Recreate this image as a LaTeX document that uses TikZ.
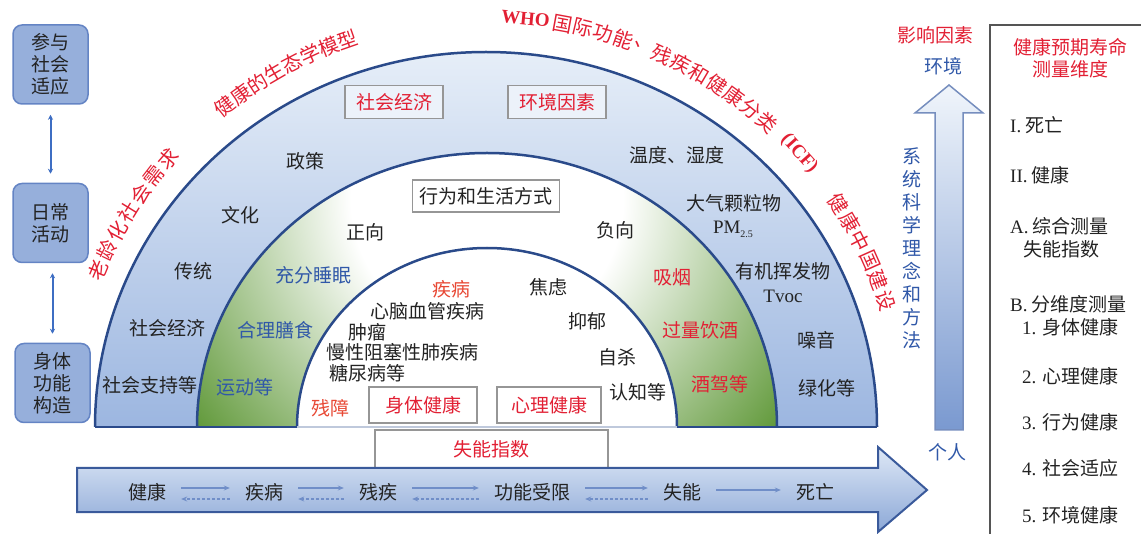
\documentclass[tikz,border=0pt]{standalone}
\usepackage{fontspec}
\setmainfont{Noto Sans CJK SC}
\newfontfamily\ser{Liberation Serif}
\usetikzlibrary{arrows.meta}

\definecolor{txtred}{RGB}{226,32,52}
\definecolor{txtorg}{RGB}{232,72,52}
\definecolor{txtblue}{RGB}{48,88,168}
\definecolor{txtdark}{RGB}{35,35,35}
\definecolor{bandline}{RGB}{42,74,138}
\definecolor{bandtop}{RGB}{230,238,248}
\definecolor{bandbot}{RGB}{156,182,224}
\definecolor{gdeep}{RGB}{92,150,52}
\definecolor{boxgray}{RGB}{150,150,150}
\definecolor{boxfill}{RGB}{236,242,250}
\definecolor{lboxfill}{RGB}{150,175,219}
\definecolor{lboxline}{RGB}{100,132,196}
\definecolor{arrline}{RGB}{58,90,155}
\definecolor{arrtop}{RGB}{222,232,246}
\definecolor{arrbot}{RGB}{140,168,215}
\definecolor{smallarr}{RGB}{112,142,200}
\definecolor{vline}{RGB}{62,110,195}
\definecolor{vtop}{RGB}{240,245,251}
\definecolor{vbot}{RGB}{122,153,208}
\definecolor{vedge}{RGB}{118,142,190}
\definecolor{panel}{RGB}{85,85,85}

\pgfdeclareradialshading{greenband}{\pgfpoint{0bp}{0bp}}{color(0bp)=(white); color(8.5bp)=(white); color(23.5bp)=(gdeep); color(50bp)=(gdeep)}

\newcommand\arcchars[4]{%
  \foreach \ch [count=\i from 0] in {#4}{%
    \pgfmathsetmacro\ang{#2-\i*#3}%
    \node[arclbl, rotate=\ang-90] (#1\i) at ({486+420*cos(\ang)},{-427+410*sin(\ang)}) {\ch};
  }}

\begin{document}
\begin{tikzpicture}[x=1pt,y=1pt,
  base/.style={font=\fontsize{19}{22}\selectfont, inner sep=1pt},
  lbl/.style={base, text=txtdark},
  redlbl/.style={base, text=txtred},
  orglbl/.style={base, text=txtorg},
  bluelbl/.style={base, text=txtblue},
  serlbl/.style={lbl, font=\ser\fontsize{19}{22}\selectfont},
  arclbl/.style={font=\fontsize{20}{22}\selectfont, text=txtred, inner sep=0pt},
  graybox/.style={base, draw=boxgray, line width=1.8pt, fill=white, text=txtred, inner sep=0pt},
  sidebox/.style={base, draw=lboxline, line width=1.5pt, fill=lboxfill, rounded corners=9pt, minimum width=75pt, minimum height=79pt, align=center, text=txtdark, inner sep=0pt},
  vconn/.style={{Stealth[length=5pt,width=5pt]}-{Stealth[length=5pt,width=5pt]}, vline, line width=2pt, shorten <=10pt, shorten >=9pt},
  fwd/.style={-{Stealth[length=6pt,width=5pt]}, smallarr, line width=1.6pt, shorten <=14pt, shorten >=14pt},
  bwd/.style={-{Stealth[length=6pt,width=5pt]}, smallarr, line width=1.6pt, dash pattern=on 3pt off 2pt, shorten <=14pt, shorten >=14pt},
  bandedge/.style={bandline, line width=2.5pt},
]
\useasboundingbox (0,0) rectangle (1141,-534);

% ---------- half-ellipse bands ----------
\shade[top color=bandtop, bottom color=bandbot] (95,-427) arc[start angle=180,end angle=0,x radius=391,y radius=375] -- cycle;
\begin{scope}
  \clip (197,-427) arc[start angle=180,end angle=0,x radius=290,y radius=274] -- cycle;
  \shade[shading=greenband] (487,-200) circle (400);
\end{scope}
\fill[white] (297,-427) arc[start angle=180,end angle=0,x radius=190,y radius=179] -- cycle;
\draw[bandedge] (95,-427) arc[start angle=180,end angle=0,x radius=391,y radius=375];
\draw[bandedge] (197,-427) arc[start angle=180,end angle=0,x radius=290,y radius=274];
\draw[bandedge] (297,-427) arc[start angle=180,end angle=0,x radius=190,y radius=179];
\draw[bandedge] (95,-427) -- (297,-427) (677,-427) -- (877,-427);
\draw[bandline!30, line width=2pt] (297,-427) -- (677,-427);

% ---------- curved red titles ----------
\arcchars{aging}{157.5}{3.05}{老,龄,化,社,会,需,求}
\arcchars{eco}{128.5}{2.75}{健,康,的,生,态,学,模,型}
\node[arclbl, font=\ser\bfseries\fontsize{19}{22}\selectfont, rotate=84.6-90] (who) at ({486+420*cos(84.6)},{-427+410*sin(84.6)}) {WHO};
\arcchars{icf}{79.5}{2.86}{国,际,功,能,、,残,疾,和,健,康,分,类}
\node[arclbl, font=\ser\bfseries\fontsize{19}{22}\selectfont, rotate=41.8-90] (icf) at ({486+420*cos(41.8)},{-427+410*sin(41.8)}) {(ICF)};
\arcchars{hc}{33}{3.0}{健,康,中,国,建,设}

% ---------- outer (blue) band ----------
\node[lbl] (zc) at (305,-161) {政策};
\node[lbl] (wh) at (240,-215) {文化};
\node[lbl] (ct) at (193,-271) {传统};
\node[lbl] (sj) at (167,-328) {社会经济};
\node[lbl] (sz) at (150,-385) {社会支持等};
\node[graybox, fill=boxfill, minimum width=98pt, minimum height=33pt] (bse) at (394,-102) {社会经济};
\node[graybox, fill=boxfill, minimum width=98pt, minimum height=33pt] (bhj) at (557,-102) {环境因素};
\node[lbl] (wd) at (677,-155) {温度、湿度};
\node[lbl] (dq) at (734,-203) {大气颗粒物};
\node[serlbl] (pm) at (733,-229) {PM\raisebox{-4pt}{\fontsize{10}{10}\selectfont 2.5}};
\node[lbl] (yj) at (783,-271) {有机挥发物};
\node[serlbl] (tv) at (783,-296) {Tvoc};
\node[lbl] (zy) at (816,-340) {噪音};
\node[lbl] (lh) at (827,-388) {绿化等};

% ---------- middle (green) band ----------
\node[graybox, text=txtdark, minimum width=147pt, minimum height=32pt] (xw) at (486,-196) {行为和生活方式};
\node[lbl] (zx) at (365,-232) {正向};
\node[lbl] (fx) at (615,-230) {负向};
\node[bluelbl] (sm) at (313,-275) {充分睡眠};
\node[bluelbl] (ss) at (275,-330) {合理膳食};
\node[bluelbl] (yd) at (245,-387) {运动等};
\node[redlbl] (xy) at (672,-277) {吸烟};
\node[redlbl] (gl) at (700,-330) {过量饮酒};
\node[redlbl] (jj) at (720,-384) {酒驾等};

% ---------- inner (white) region ----------
\node[orglbl] (jb) at (451,-289) {疾病};
\node[lbl] (xn) at (427,-311) {心脑血管疾病};
\node[lbl] (zl) at (367,-332) {肿瘤};
\node[lbl] (mx) at (402,-352) {慢性阻塞性肺疾病};
\node[lbl] (tn) at (367,-373) {糖尿病等};
\node[lbl] (jl) at (548,-287) {焦虑};
\node[lbl] (yy) at (587,-321) {抑郁};
\node[lbl] (zs) at (617,-357) {自杀};
\node[lbl] (rz) at (638,-392) {认知等};
\node[orglbl] (cz) at (330,-408) {残障};
\node[graybox, minimum width=108pt, minimum height=36pt] (st) at (423,-405) {身体健康};
\node[graybox, minimum width=104pt, minimum height=36pt] (xl) at (549,-405) {心理健康};
\node[graybox, minimum width=233pt, minimum height=38pt] (sn) at (491.5,-449) {失能指数};

% ---------- bottom arrow ----------
\shadedraw[top color=arrtop, bottom color=arrbot, draw=arrline, line width=2pt] (77,-468) -- (878,-468) -- (878,-447) -- (927,-490) -- (878,-532) -- (878,-512) -- (77,-512) -- cycle;
\node[lbl] (h1) at (147,-492) {健康};
\node[lbl] (h2) at (264,-492) {疾病};
\node[lbl] (h3) at (378,-492) {残疾};
\node[lbl] (h4) at (532,-492) {功能受限};
\node[lbl] (h5) at (682,-492) {失能};
\node[lbl] (h6) at (815,-492) {死亡};
\draw[fwd] ([yshift=4pt]h1.east) -- ([yshift=4pt]h2.west);
\draw[bwd] ([yshift=-7pt]h2.west) -- ([yshift=-7pt]h1.east);
\draw[fwd] ([yshift=4pt]h2.east) -- ([yshift=4pt]h3.west);
\draw[bwd] ([yshift=-7pt]h3.west) -- ([yshift=-7pt]h2.east);
\draw[fwd] ([yshift=4pt]h3.east) -- ([yshift=4pt]h4.west);
\draw[bwd] ([yshift=-7pt]h4.west) -- ([yshift=-7pt]h3.east);
\draw[fwd] ([yshift=4pt]h4.east) -- ([yshift=4pt]h5.west);
\draw[bwd] ([yshift=-7pt]h5.west) -- ([yshift=-7pt]h4.east);
\draw[fwd] ([yshift=2pt]h5.east) -- ([yshift=2pt]h6.west);

% ---------- left boxes ----------
\node[sidebox] (p1) at (50.5,-64.5) {参与\\社会\\适应};
\node[sidebox] (p2) at (50.5,-223) {日常\\活动};
\node[sidebox] (p3) at (52.5,-383) {身体\\功能\\构造};
\draw[vconn] (p1) -- (p2);
\draw[vconn] (p2.south -| p3.north) -- (p3.north);

% ---------- vertical arrow ----------
\shadedraw[top color=vtop, bottom color=vbot, draw=vedge, line width=1.5pt] (935,-430) -- (935,-113) -- (915,-113) -- (949,-85) -- (983,-113) -- (963,-113) -- (963,-430) -- cycle;
\node[redlbl] (yx) at (935,-35) {影响因素};
\node[bluelbl] (hj) at (943,-66) {环境};
\node[bluelbl] (gr) at (947,-452) {个人};
\node[bluelbl, align=center, font=\fontsize{19}{23}\selectfont] (xt) at (912,-248) {系\\统\\科\\学\\理\\念\\和\\方\\法};

% ---------- right panel ----------
\draw[panel, line width=1.5pt] (990,-560) -- (990,-25) -- (1160,-25);
\node[redlbl, align=center] (tt) at (1070,-58) {健康预期寿命\\测量维度};
\node[lbl, anchor=west] (r1) at (1009,-125) {{\ser I.} 死亡};
\node[lbl, anchor=west] (r2) at (1009,-175) {{\ser II.} 健康};
\node[lbl, anchor=west] (r3) at (1009,-226) {{\ser A.} 综合测量};
\node[lbl, anchor=west] (r4) at (1022,-249) {失能指数};
\node[lbl, anchor=west] (r5) at (1009,-304) {{\ser B.} 分维度测量};
\node[lbl, anchor=west] (r6) at (1021,-327) {{\ser 1.} 身体健康};
\node[lbl, anchor=west] (r7) at (1021,-376) {{\ser 2.} 心理健康};
\node[lbl, anchor=west] (r8) at (1021,-422) {{\ser 3.} 行为健康};
\node[lbl, anchor=west] (r9) at (1021,-468) {{\ser 4.} 社会适应};
\node[lbl, anchor=west] (r10) at (1021,-515) {{\ser 5.} 环境健康};
\end{tikzpicture}
\end{document}
